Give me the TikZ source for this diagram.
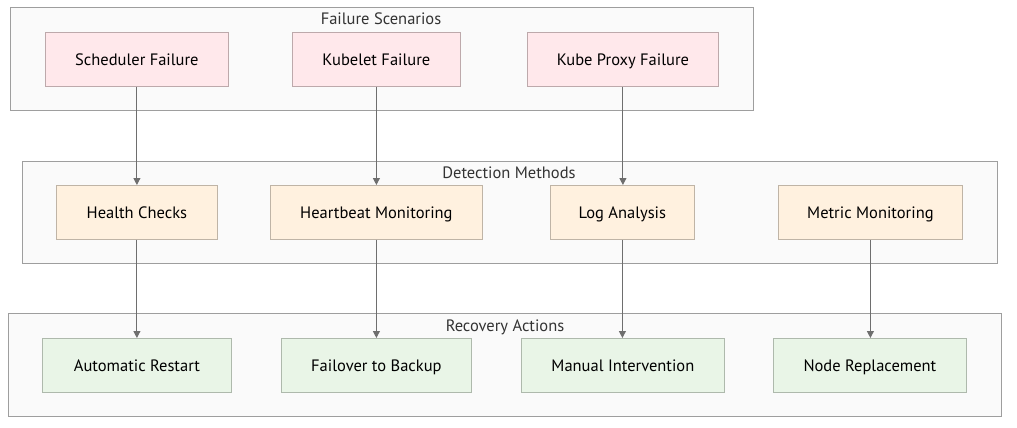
\documentclass[tikz,border=0pt]{standalone}
\usepackage{fontspec}
\setmainfont{PT Sans}
\usetikzlibrary{arrows.meta}
\definecolor{clfill}{HTML}{FAFAFA}
\definecolor{cldraw}{HTML}{9E9E9E}
\definecolor{pinkf}{HTML}{FFE8EB}
\definecolor{pinkd}{HTML}{BDA9AB}
\definecolor{orf}{HTML}{FFF1DF}
\definecolor{ord}{HTML}{BFB4A6}
\definecolor{grf}{HTML}{E9F5E7}
\definecolor{grd}{HTML}{AEB9AC}
\definecolor{edge}{HTML}{6E6E6E}
\begin{document}
\begin{tikzpicture}[x=1pt,y=-1pt,
  cluster/.style={draw=cldraw,fill=clfill,line width=1pt},
  ctitle/.style={font=\fontsize{16.5}{19}\selectfont,text=black!80,anchor=center,inner sep=0,text height=11pt,text depth=3pt},
  box/.style={draw,line width=0.8pt,minimum height=54pt,font=\fontsize{16.5}{19}\selectfont,inner sep=0,anchor=north west,text height=13.5pt,text depth=1.5pt},
  fail/.style={box,fill=pinkf,draw=pinkd},
  det/.style={box,fill=orf,draw=ord},
  rec/.style={box,fill=grf,draw=grd},
  conn/.style={draw=edge,line width=1pt,-{Triangle[length=7pt,width=7pt]}}]
\useasboundingbox (0,0) rectangle (1017,428);
\fill[white] (0,0) rectangle (1017,428);
% clusters
\draw[cluster] (10,8) rectangle (753,110);
\node[ctitle] (t1) at (381,21) {Failure Scenarios};
\draw[cluster] (22,161) rectangle (997,263);
\node[ctitle] (t2) at (509,174) {Detection Methods};
\draw[cluster] (8,313) rectangle (1001,416);
\node[ctitle] (t3) at (505,327) {Recovery Actions};
% failure nodes
\node[fail,minimum width=183pt] (sf) at (45,32) {Scheduler Failure};
\node[fail,minimum width=168pt] (kf) at (292,32) {Kubelet Failure};
\node[fail,minimum width=191pt] (pf) at (527,32) {Kube Proxy Failure};
% detection
\node[det,minimum width=161pt] (hc) at (56,185) {Health Checks};
\node[det,minimum width=212pt] (hb) at (270,185) {Heartbeat Monitoring};
\node[det,minimum width=144pt] (la) at (550,185) {Log Analysis};
\node[det,minimum width=184pt] (mm) at (778,185) {Metric Monitoring};
% recovery
\node[rec,minimum width=189pt] (ar) at (42,338) {Automatic Restart};
\node[rec,minimum width=190pt] (fb) at (281,338) {Failover to Backup};
\node[rec,minimum width=203pt] (mi) at (521,338) {Manual Intervention};
\node[rec,minimum width=193pt] (nr) at (773,338) {Node Replacement};
% edges
\draw[conn] (sf.south) -- (sf.south |- hc.north);
\draw[conn] (kf.south) -- (kf.south |- hb.north);
\draw[conn] (pf.south) -- (pf.south |- la.north);
\draw[conn] (hc.south) -- (hc.south |- ar.north);
\draw[conn] (hb.south) -- (hb.south |- fb.north);
\draw[conn] (la.south) -- (la.south |- mi.north);
\draw[conn] (mm.south) -- (mm.south |- nr.north);
\end{tikzpicture}
\end{document}
